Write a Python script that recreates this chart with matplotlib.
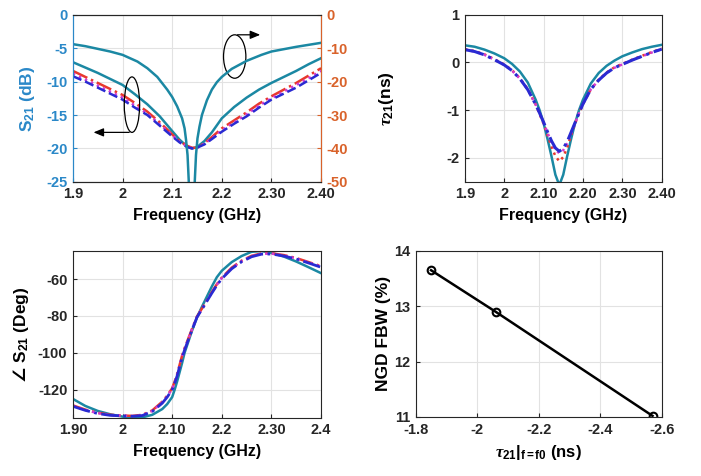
import matplotlib
matplotlib.use("Agg")
import matplotlib.pyplot as plt
from matplotlib.patches import Ellipse

plt.rcParams["font.family"] = ["Liberation Sans", "DejaVu Sans"]
plt.rcParams["font.weight"] = "bold"
plt.rcParams["axes.unicode_minus"] = False
plt.rcParams["mathtext.fontset"] = "custom"
plt.rcParams["mathtext.rm"] = "Liberation Sans:bold"
plt.rcParams["mathtext.it"] = "Liberation Serif:italic"
plt.rcParams["mathtext.sf"] = "DejaVu Sans:bold"
plt.rcParams["mathtext.default"] = "regular"
plt.rcParams["mathtext.fallback"] = "stixsans"

# ---- (a) |S11| (right axis) and |S21| (left axis) in dB ----
f_s11 = [1.90, 1.925, 1.95, 1.975, 2.00, 2.03, 2.05, 2.07, 2.09, 2.10, 2.11, 2.12, 2.125,
         2.128, 2.131, 2.1335, 2.14, 2.1455, 2.148, 2.151, 2.155, 2.16, 2.17, 2.18, 2.19,
         2.20, 2.22, 2.25, 2.28, 2.30, 2.35, 2.40]
s11_db = [-8.8, -9.4, -10.2, -11.0, -12.0, -14.0, -16.0, -18.6, -22.4, -24.6, -27.4, -31.0, -34.0,
          -37.5, -42.0, -50.0, -75.0, -50.0, -42.0, -37.0, -33.5, -30.0, -25.6, -22.4, -20.2,
          -18.6, -16.2, -13.8, -12.0, -11.0, -9.6, -8.4]
f_s21 = [1.90, 1.925, 1.95, 1.975, 2.00, 2.025, 2.05, 2.075, 2.10, 2.115, 2.13, 2.14, 2.15,
         2.165, 2.18, 2.20, 2.225, 2.25, 2.275, 2.30, 2.325, 2.35, 2.375, 2.40]
s21_teal = [-7.1, -7.9, -8.7, -9.6, -10.5, -11.9, -13.4, -15.2, -17.4, -18.7, -19.7, -20.0, -19.8,
            -18.9, -17.6, -15.5, -13.8, -12.4, -11.2, -10.2, -9.3, -8.4, -7.4, -6.5]
s21_red = [-8.4, -9.3, -10.2, -11.1, -12.0, -13.2, -14.5, -16.1, -17.9, -18.9, -19.6, -19.9, -19.9,
           -19.2, -18.3, -17.0, -15.8, -14.6, -13.3, -12.2, -11.2, -10.2, -9.1, -8.0]
s21_mag = [-8.8, -9.7, -10.6, -11.5, -12.4, -13.6, -14.8, -16.4, -18.0, -19.0, -19.7, -20.0, -19.9,
           -19.3, -18.5, -17.3, -16.1, -14.9, -13.6, -12.5, -11.5, -10.5, -9.5, -8.4]
s21_blue = [-9.2, -10.0, -10.9, -11.8, -12.7, -13.9, -15.0, -16.6, -18.2, -19.1, -19.8, -20.0, -19.9,
            -19.4, -18.6, -17.5, -16.3, -15.2, -13.9, -12.7, -11.8, -10.9, -9.8, -8.7]

# ---- (b) group delay tau21 (ns) ----
f_gd = [1.90, 1.925, 1.95, 1.975, 2.00, 2.02, 2.04, 2.06, 2.08, 2.09, 2.10, 2.11, 2.12, 2.13,
        2.14, 2.15, 2.16, 2.17, 2.18, 2.19, 2.20, 2.22, 2.24, 2.26, 2.28, 2.30, 2.325, 2.35,
        2.375, 2.40]
gd_teal = [0.36, 0.33, 0.27, 0.19, 0.09, -0.03, -0.19, -0.42, -0.78, -1.00, -1.27, -1.60, -1.96, -2.35,
           -2.57, -2.35, -1.96, -1.60, -1.27, -1.00, -0.78, -0.44, -0.22, -0.07, 0.04, 0.13, 0.21, 0.28,
           0.33, 0.37]
gd_red = [0.28, 0.24, 0.17, 0.07, -0.04, -0.16, -0.33, -0.56, -0.88, -1.08, -1.28, -1.52, -1.76, -1.96,
          -2.07, -1.98, -1.78, -1.52, -1.28, -1.06, -0.87, -0.56, -0.36, -0.21, -0.10, -0.03, 0.06, 0.14,
          0.22, 0.29]
gd_mag = [0.27, 0.23, 0.16, 0.06, -0.05, -0.17, -0.34, -0.57, -0.88, -1.07, -1.26, -1.47, -1.67, -1.83,
          -1.90, -1.84, -1.69, -1.48, -1.27, -1.06, -0.87, -0.56, -0.37, -0.22, -0.11, -0.04, 0.05, 0.13,
          0.21, 0.28]
gd_blue = [0.27, 0.23, 0.16, 0.06, -0.05, -0.17, -0.34, -0.57, -0.88, -1.06, -1.25, -1.45, -1.64, -1.79,
           -1.86, -1.80, -1.66, -1.46, -1.26, -1.06, -0.87, -0.56, -0.37, -0.22, -0.11, -0.04, 0.05, 0.13,
           0.21, 0.28]

# ---- (c) phase of S21 (deg) ----
f_ph = [1.90, 1.925, 1.95, 1.975, 2.00, 2.02, 2.04, 2.06, 2.08, 2.09, 2.10, 2.105, 2.11, 2.115,
        2.12, 2.125, 2.13, 2.14, 2.15, 2.16, 2.17, 2.18, 2.19, 2.20, 2.22, 2.24, 2.26, 2.28,
        2.30, 2.325, 2.35, 2.375, 2.40]
ph_teal = [-125.0, -128.8, -131.5, -133.3, -134.6, -135.2, -135.0, -133.6, -130.5, -127.8, -124.0, -120.0,
           -115.5, -110.5, -105.5, -100.0, -96.0, -88.0, -80.8, -75.0, -69.5, -64.0, -59.0, -55.5,
           -50.8, -47.5, -45.2, -44.8, -45.8, -47.8, -50.5, -53.6, -56.8]
ph_red = [-128.5, -130.8, -132.5, -133.6, -134.0, -134.2, -133.6, -131.2, -126.5, -123.2, -119.2, -115.6,
          -111.5, -106.5, -101.5, -97.5, -94.0, -87.0, -80.3, -76.0, -71.5, -67.0, -62.8, -59.2,
          -53.8, -50.0, -47.4, -46.1, -46.0, -47.0, -48.6, -50.8, -53.0]
ph_mag = [-128.8, -131.0, -132.7, -133.7, -134.1, -134.3, -133.8, -131.5, -126.9, -123.6, -119.6, -116.0,
          -112.0, -107.0, -102.0, -98.0, -94.4, -87.3, -80.5, -76.2, -71.7, -67.3, -63.1, -59.5,
          -54.1, -50.3, -47.6, -46.3, -46.2, -47.2, -48.8, -51.0, -53.3]
ph_blue = [-129.0, -131.2, -132.9, -133.9, -134.2, -134.4, -134.0, -131.8, -127.3, -124.0, -120.0, -116.5,
           -112.5, -107.5, -102.5, -98.5, -94.8, -87.6, -80.7, -76.4, -72.0, -67.6, -63.4, -59.8,
           -54.4, -50.6, -47.9, -46.5, -46.4, -47.5, -49.1, -51.3, -53.6]

# ---- (d) NGD FBW vs tau21 at f0 ----
tau0 = [-1.85, -2.06, -2.57]
fbw = [13.65, 12.9, 11.02]

TEAL = "#1b88a3"
RED = "#e8382c"
MAG = "#d23cd2"
BLUE = "#2a2ad2"
LBLUE = "#2a88c8"
ORANGE = "#d9622a"
DARK = "#262626"
GRID = "#e2e2e2"

fig = plt.figure(figsize=(7.01, 4.76), dpi=100)


def style(ax):
    ax.grid(True, color=GRID, linewidth=0.8)
    ax.set_axisbelow(True)
    ax.tick_params(direction="in", length=3, labelsize=10.5, colors=DARK, pad=4)
    for s in ax.spines.values():
        s.set_color(DARK)
        s.set_linewidth(0.8)


# (a)
ax = fig.add_axes([0.104, 0.618, 0.354, 0.351])
style(ax)
ax.plot(f_s21, s21_teal, color=TEAL, lw=1.8)
ax.plot(f_s21, s21_red, color=RED, lw=1.8, ls="-.")
ax.plot(f_s21, s21_mag, color=MAG, lw=1.8, ls=":")
ax.plot(f_s21, s21_blue, color=BLUE, lw=1.8, ls="--")
ax.set_xlim(1.9, 2.4)
ax.set_ylim(-25, 0)
ax.set_xticks([1.9, 2.0, 2.1, 2.2, 2.3, 2.4])
ax.set_xticklabels(["1.9", "2", "2.1", "2.2", "2.30", "2.40"])
ax.set_yticks([0, -5, -10, -15, -20, -25])
ax.tick_params(axis="y", colors=LBLUE)
ax.spines["left"].set_color(LBLUE)
ax.set_ylabel("S$_{21}$ (dB)", color=LBLUE, fontsize=12.5, fontweight="bold")
ax.yaxis.set_label_coords(-0.145, 0.5)
ax.set_xlabel("Frequency (GHz)", fontsize=11.5, fontweight="bold", labelpad=5)
ax2 = ax.twinx()
ax2.plot(f_s11, s11_db, color=TEAL, lw=1.8)
ax2.set_ylim(-50, 0)
ax2.set_yticks([0, -10, -20, -30, -40, -50])
ax2.tick_params(direction="in", length=3, labelsize=10.5, colors=ORANGE, pad=4)
for s in ax2.spines.values():
    s.set_linewidth(0.8)
    s.set_color(DARK)
ax2.spines["right"].set_color(ORANGE)
ax2.spines["left"].set_color(LBLUE)
arrow = dict(arrowstyle="-|>,head_length=0.6,head_width=0.25", color="black", lw=0.9)
ax2.add_patch(Ellipse((2.226, -6.25), 0.045, 6.5, transform=ax.transData,
                      fill=False, edgecolor="black", lw=0.9))
ax2.annotate("", xy=(2.283, -3.0), xytext=(2.226, -3.0), xycoords=ax.transData,
             textcoords=ax.transData, arrowprops=arrow)
ax2.add_patch(Ellipse((2.019, -13.45), 0.031, 8.3, transform=ax.transData,
                      fill=False, edgecolor="black", lw=0.9))
ax2.annotate("", xy=(1.936, -17.6), xytext=(2.019, -17.6), xycoords=ax.transData,
             textcoords=ax.transData, arrowprops=arrow)

# (b)
ax = fig.add_axes([0.663, 0.618, 0.281, 0.351])
style(ax)
ax.plot(f_gd, gd_teal, color=TEAL, lw=1.8)
ax.plot(f_gd, gd_red, color=RED, lw=1.8, ls=":")
ax.plot(f_gd, gd_mag, color=MAG, lw=1.8, ls=":")
ax.plot(f_gd, gd_blue, color=BLUE, lw=2.2, ls="-.")
ax.set_xlim(1.9, 2.4)
ax.set_ylim(-2.5, 1)
ax.set_xticks([1.9, 2.0, 2.1, 2.2, 2.3, 2.4])
ax.set_xticklabels(["1.9", "2", "2.10", "2.20", "2.30", "2.40"])
ax.set_yticks([1, 0, -1, -2])
ax.set_ylabel(r"$\mathit{\tau}_{21}$(ns)", fontsize=12.5, fontweight="bold")
ax.yaxis.set_label_coords(-0.35, 0.5)
ax.set_xlabel("Frequency (GHz)", fontsize=11.5, fontweight="bold", labelpad=5)

# (c)
ax = fig.add_axes([0.104, 0.122, 0.354, 0.351])
style(ax)
ax.plot(f_ph, ph_teal, color=TEAL, lw=1.8)
ax.plot(f_ph, ph_red, color=RED, lw=1.8, ls="-.")
ax.plot(f_ph, ph_mag, color=MAG, lw=1.8, ls=":")
ax.plot(f_ph, ph_blue, color=BLUE, lw=2.0, ls="-.")
ax.set_xlim(1.9, 2.4)
ax.set_ylim(-135.3, -44.7)
ax.set_xticks([1.9, 2.0, 2.1, 2.2, 2.3, 2.4])
ax.set_xticklabels(["1.90", "2", "2.10", "2.2", "2.30", "2.4"])
ax.set_yticks([-60, -80, -100, -120])
ax.set_ylabel(r"$\mathsf{\angle}$ S$_{21}$ (Deg)", fontsize=12.5, fontweight="bold")
ax.yaxis.set_label_coords(-0.17, 0.5)
ax.set_xlabel("Frequency (GHz)", fontsize=11.5, fontweight="bold", labelpad=5)

# (d)
ax = fig.add_axes([0.593, 0.124, 0.351, 0.349])
style(ax)
ax.plot(tau0, fbw, color="black", lw=1.8, marker="o", ms=5.5, mfc="none", mew=1.5)
ax.set_xlim(-1.8, -2.6)
ax.set_ylim(11, 14)
ax.set_xticks([-1.8, -2.0, -2.2, -2.4, -2.6])
ax.set_xticklabels(["-1.8", "-2", "-2.2", "-2.4", "-2.6"])
ax.set_yticks([11, 12, 13, 14])
ax.set_ylabel("NGD FBW (%)", fontsize=12.5, fontweight="bold")
ax.yaxis.set_label_coords(-0.1, 0.5)
ax.set_xlabel(r"$\mathit{\tau}_{21}|_{f=f0}$ (ns)", fontsize=12, fontweight="bold", labelpad=5)

fig.savefig("out.png", dpi=100, facecolor="white")
